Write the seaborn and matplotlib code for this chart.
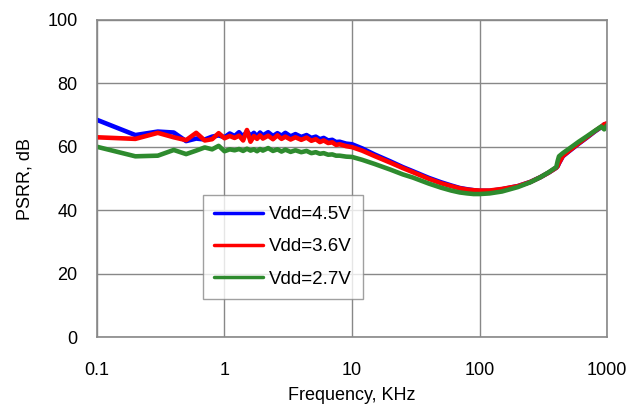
import pandas as pd
import numpy as np
import matplotlib
matplotlib.use("Agg")
import matplotlib.pyplot as plt
import seaborn as sns

# ---PSRR vs frequency, three supply voltages

freq = [0.1, 0.2, 0.3, 0.4, 0.5, 0.6, 0.7, 0.8, 0.9, 1.0,
        1.1, 1.2, 1.3, 1.4, 1.5, 1.6, 1.7, 1.8, 1.9, 2.0,
        2.2, 2.4, 2.6, 2.8, 3.0, 3.3, 3.6, 4.0, 4.4, 4.8,
        5.2, 5.6, 6.0, 6.5, 7.0, 7.5, 8.0, 9.0, 10, 12,
        15, 20, 25, 30, 40, 50, 60, 70, 80, 90,
        100, 120, 150, 200, 250, 300, 350, 400, 410, 420,
        450, 500, 600, 700, 800, 900, 950, 1000]

psrr_45 = [68.5, 63.7, 64.8, 64.5, 61.8, 62.6, 62.3, 63.2, 63.6, 63.0,
           64.2, 63.4, 64.6, 63.2, 64.9, 63.5, 64.4, 63.3, 64.5, 63.6,
           64.6, 63.4, 64.3, 63.5, 64.4, 63.3, 64.0, 63.1, 63.7, 62.8,
           63.2, 62.4, 62.8, 62.0, 62.2, 61.5, 61.6, 61.0, 60.8, 59.5,
           57.6, 55.4, 53.6, 52.3, 50.2, 48.8, 47.8, 47.0, 46.6, 46.3,
           46.1, 46.1, 46.6, 47.6, 48.9, 50.4, 51.9, 53.4, 53.9, 54.8,
           57.0, 58.5, 61.0, 63.0, 64.8, 66.2, 67.0, 67.3]

psrr_36 = [63.0, 62.5, 64.4, 63.0, 62.1, 64.4, 62.0, 62.4, 64.3, 62.7,
           63.4, 62.8, 63.5, 62.0, 65.3, 61.6, 63.4, 62.5, 63.6, 62.6,
           63.5, 62.4, 63.6, 62.5, 63.2, 62.3, 63.0, 62.2, 62.9, 61.9,
           62.4, 61.5, 62.0, 61.2, 61.4, 60.6, 60.8, 60.2, 59.9, 58.8,
           57.1, 55.0, 53.3, 52.0, 49.9, 48.5, 47.6, 46.9, 46.5, 46.3,
           46.2, 46.2, 46.7, 47.6, 48.9, 50.4, 51.9, 53.4, 53.9, 54.9,
           57.1, 58.6, 61.1, 63.1, 64.9, 66.3, 67.1, 67.4]

psrr_27 = [60.0, 57.0, 57.2, 59.0, 57.7, 58.8, 59.8, 59.2, 60.3, 58.6,
           59.2, 58.9, 59.3, 58.7, 59.4, 58.8, 59.2, 58.6, 59.3, 58.8,
           59.6, 58.7, 59.2, 58.5, 59.1, 58.4, 58.9, 58.3, 58.7, 58.0,
           58.3, 57.8, 58.0, 57.5, 57.6, 57.2, 57.2, 56.9, 56.8, 55.9,
           54.6, 52.8, 51.3, 50.3, 48.4, 47.1, 46.2, 45.6, 45.3, 45.1,
           45.1, 45.3, 45.9, 47.3, 48.8, 50.4, 52.0, 53.6, 55.5, 57.0,
           58.0, 59.3, 61.6, 63.4, 65.0, 66.4, 65.5, 66.8]

labels = ['Vdd=4.5V', 'Vdd=3.6V', 'Vdd=2.7V']
colors = ['#0000ff', '#ff0000', '#2e8b2e']

df = pd.DataFrame({
    'freq': freq * 3,
    'psrr': psrr_45 + psrr_36 + psrr_27,
    'vdd': [labels[0]] * len(freq) + [labels[1]] * len(freq) + [labels[2]] * len(freq),
})

sns.set_style('white')
plt.rcParams['font.family'] = ['Liberation Sans', 'DejaVu Sans']
plt.rcParams['text.color'] = 'black'
plt.rcParams['axes.labelcolor'] = 'black'
plt.rcParams['xtick.color'] = 'black'
plt.rcParams['ytick.color'] = 'black'

fig, ax = plt.subplots(figsize=(6.31, 4.08), dpi=100)
fig.subplots_adjust(left=0.1537, right=0.962, top=0.951, bottom=0.174)

sns.lineplot(data=df, x='freq', y='psrr', hue='vdd', hue_order=labels,
             palette=colors, linewidth=3.3, ax=ax, sort=True, estimator=None)

ax.set_xscale('log')
ax.set_xlim(0.1, 1000)
ax.set_ylim(0, 100)
ax.set_xticks([0.1, 1, 10, 100, 1000])
ax.set_xticklabels(['0.1', '1', '10', '100', '1000'])
ax.set_yticks([0, 20, 40, 60, 80, 100])
ax.minorticks_off()
ax.tick_params(axis='both', length=0, labelsize=13)
ax.tick_params(axis='x', pad=18)
ax.tick_params(axis='y', pad=14)
ax.grid(True, color='#888888', linewidth=1)
for s in ax.spines.values():
    s.set_color('#888888')
    s.set_linewidth(1.2)

ax.set_xlabel('Frequency, KHz', fontsize=13, labelpad=6)
ax.set_ylabel('PSRR, dB', fontsize=13, labelpad=10)

leg = ax.legend(loc='upper left', bbox_to_anchor=(0.208, 0.448), borderaxespad=0,
                fontsize=13.5, frameon=True, fancybox=False, edgecolor='#888888',
                handlelength=2.6, handletextpad=0.3, labelspacing=0.8,
                borderpad=0.6, title=None)
leg.get_frame().set_linewidth(1)
for line in leg.get_lines():
    line.set_linewidth(2.5)

plt.savefig('out.png', dpi=100)
